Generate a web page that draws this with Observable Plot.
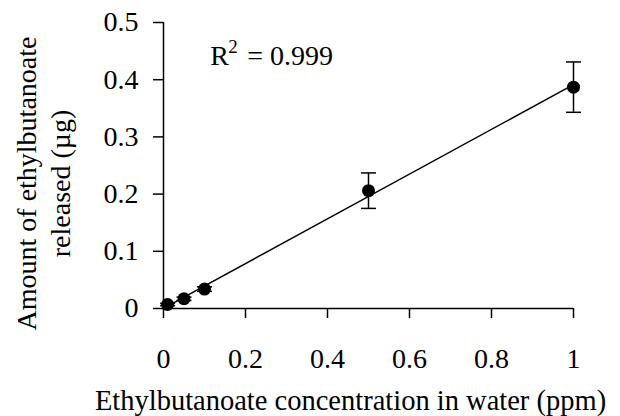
<!DOCTYPE html>
<html><head><meta charset="utf-8">
<script src="https://cdn.jsdelivr.net/npm/d3@7"></script>
<script src="https://cdn.jsdelivr.net/npm/@observablehq/plot@0.6"></script>
<style>body{margin:0;background:#fff}</style>
</head><body><div id="chart"></div>
<script>
const concentration = [0.01, 0.05, 0.1, 0.5, 1];
const amount = [0.007, 0.017, 0.034, 0.206, 0.387];
const sd = [0.002, 0.003, 0.004, 0.031, 0.044];
const xTicks = [0, 0.2, 0.4, 0.6, 0.8, 1];
const yTicks = [0, 0.1, 0.2, 0.3, 0.4, 0.5];
const xTitle = "Ethylbutanoate concentration in water (ppm)";
const yTitle = "Amount of ethylbutanoate\nreleased (µg)";
const r2Label = {x: 0.114, y: 0.425, base: "R", sup: "2", rest: "= 0.999"};

const data = concentration.map((c, i) => ({x: c, y: amount[i], lo: amount[i] - sd[i], hi: amount[i] + sd[i]}));
const cap = {draw(ctx, size) { const w = Math.sqrt(size / Math.PI); ctx.moveTo(-w, 0); ctx.lineTo(w, 0); }};

const chart = Plot.plot({
  width: 620, height: 416,
  marginLeft: 163, marginRight: 47, marginTop: 22, marginBottom: 108,
  style: {fontFamily: "'Liberation Serif', 'Times New Roman', serif", fontSize: "28px", color: "black", background: "white"},
  x: {domain: [0, 1]},
  y: {domain: [0, 0.5]},
  marks: [
    Plot.axisX({ticks: xTicks, tickSize: 10, tickPadding: 30, tickFormat: d => String(d), label: null, strokeWidth: 1.5, fontSize: 28}),
    Plot.axisY({ticks: yTicks, tickSize: 10, tickPadding: 15, tickFormat: d => String(d), label: null, strokeWidth: 1.5, fontSize: 28}),
    Plot.ruleX([0], {strokeWidth: 1.5}),
    Plot.ruleY([0], {strokeWidth: 1.5}),
    Plot.linearRegressionY(data, {x: "x", y: "y", ci: 0, stroke: "black", strokeWidth: 1.5}),
    Plot.ruleX(data, {x: "x", y1: "lo", y2: "hi", strokeWidth: 1.5}),
    Plot.dot(data, {x: "x", y: "hi", symbol: cap, r: 7.5, stroke: "black", strokeWidth: 1.5}),
    Plot.dot(data, {x: "x", y: "lo", symbol: cap, r: 7.5, stroke: "black", strokeWidth: 1.5}),
    Plot.dot(data, {x: "x", y: "y", r: 6.5, fill: "black"}),
    Plot.text([r2Label], {x: "x", y: "y", text: "base", textAnchor: "start", lineAnchor: "bottom", fontSize: 28}),
    Plot.text([r2Label], {x: "x", y: "y", text: "sup", textAnchor: "start", lineAnchor: "bottom", fontSize: 19, dx: 18, dy: -12}),
    Plot.text([r2Label], {x: "x", y: "y", text: "rest", textAnchor: "start", lineAnchor: "bottom", fontSize: 28, dx: 37}),
    Plot.text([xTitle], {frameAnchor: "bottom", text: d => d, textAnchor: "middle", lineAnchor: "bottom", dy: 101, dx: -18, fontSize: 28.5}),
    Plot.text([yTitle], {frameAnchor: "left", text: d => d, textAnchor: "middle", rotate: -90, lineAnchor: "bottom", lineHeight: 1.21, dx: -94, dy: 18, fontSize: 28})
  ]
});
document.getElementById("chart").append(chart);
</script>
</body></html>
